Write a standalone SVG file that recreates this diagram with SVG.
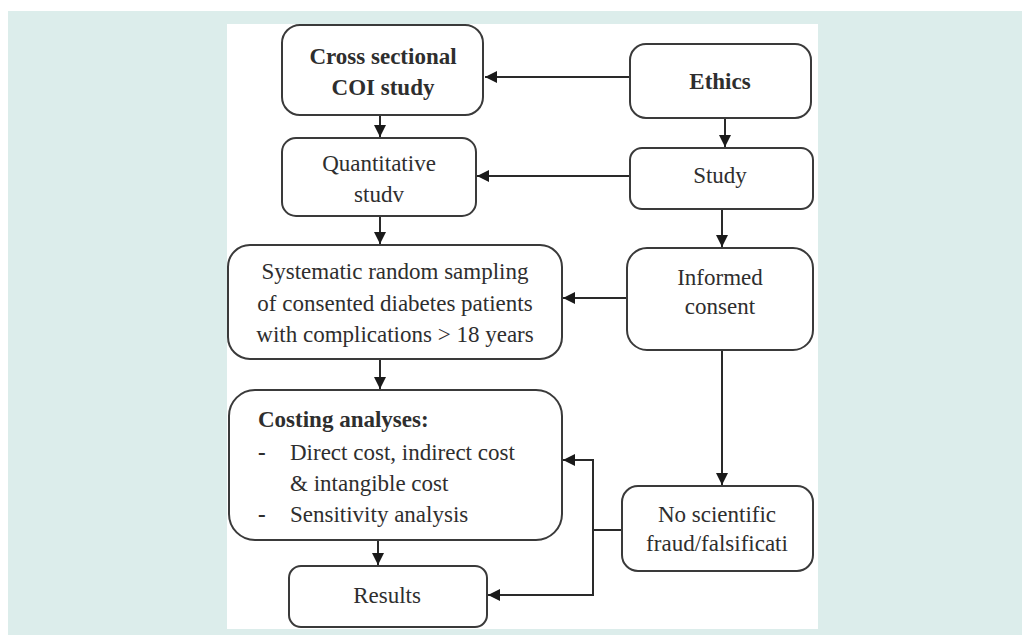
<svg xmlns="http://www.w3.org/2000/svg" width="1022" height="635" viewBox="0 0 1022 635">
<style>
.bg{fill:#dcedeb}
.box{fill:#ffffff;stroke:#3a3a3a;stroke-width:2}
.t{font-family:"Liberation Serif","Times New Roman",serif;font-size:23px;fill:#2e2e2e;text-anchor:middle}
.b{font-weight:bold}
.l{text-anchor:start}
.c{fill:none;stroke:#2a2a2a;stroke-width:2}
</style>
<defs>
<marker id="ah" viewBox="0 0 10 10" refX="10" refY="5" markerWidth="6" markerHeight="6" markerUnits="strokeWidth" orient="auto">
<path d="M0,0 L10,5 L0,10 Z" fill="#1a1a1a"/>
</marker>
</defs>
<rect x="0" y="0" width="1022" height="635" fill="#ffffff"/>
<rect class="bg" x="8" y="11" width="1014" height="624"/>
<rect x="227" y="24" width="591" height="605" fill="#ffffff"/>

<g id="connectors">
<line class="c" x1="630" y1="77" x2="485" y2="77" marker-end="url(#ah)"/>
<line class="c" x1="380" y1="115" x2="380" y2="137" marker-end="url(#ah)"/>
<line class="c" x1="725" y1="118" x2="725" y2="147" marker-end="url(#ah)"/>
<line class="c" x1="630" y1="176" x2="477" y2="176" marker-end="url(#ah)"/>
<line class="c" x1="380" y1="216" x2="380" y2="244" marker-end="url(#ah)"/>
<line class="c" x1="722" y1="209" x2="722" y2="247" marker-end="url(#ah)"/>
<line class="c" x1="627" y1="298" x2="563" y2="298" marker-end="url(#ah)"/>
<line class="c" x1="380" y1="359" x2="380" y2="389" marker-end="url(#ah)"/>
<line class="c" x1="722" y1="350" x2="722" y2="485" marker-end="url(#ah)"/>
<line class="c" x1="378" y1="540" x2="378" y2="565" marker-end="url(#ah)"/>
<line class="c" x1="622" y1="530" x2="593" y2="530"/>
<polyline class="c" points="593,595 593,460 563,460" marker-end="url(#ah)"/>
<polyline class="c" points="593,530 593,595 488,595" marker-end="url(#ah)"/>
</g>

<g id="cross">
<rect class="box" x="282" y="25" width="201" height="90" rx="18"/>
<text class="t b" x="383" y="64">Cross sectional</text>
<text class="t b" x="383" y="95">COI study</text>
</g>
<g id="ethics">
<rect class="box" x="630" y="44" width="181" height="74" rx="16"/>
<text class="t b" x="720" y="89">Ethics</text>
</g>
<g id="quantitative">
<rect class="box" x="282" y="138" width="194" height="78" rx="14"/>
<text class="t" x="379" y="171">Quantitative</text>
<text class="t" x="379" y="202">studv</text>
</g>
<g id="study">
<rect class="box" x="630" y="148" width="183" height="61" rx="12"/>
<text class="t" x="720" y="183">Study</text>
</g>
<g id="systematic">
<rect class="box" x="228" y="245" width="334" height="114" rx="22"/>
<text class="t" x="395" y="279">Systematic random sampling</text>
<text class="t" x="395" y="311">of consented diabetes patients</text>
<text class="t" x="395" y="342">with complications &gt; 18 years</text>
</g>
<g id="informed">
<rect class="box" x="627" y="248" width="186" height="102" rx="20"/>
<text class="t" x="720" y="285">Informed</text>
<text class="t" x="720" y="314">consent</text>
</g>
<g id="costing">
<rect class="box" x="229" y="390" width="333" height="150" rx="26"/>
<text class="t b l" x="258" y="427">Costing analyses:</text>
<text class="t b l" x="258" y="460">-</text>
<text class="t l" x="290" y="460">Direct cost, indirect cost</text>
<text class="t l" x="290" y="491">&amp; intangible cost</text>
<text class="t b l" x="258" y="522">-</text>
<text class="t l" x="290" y="522">Sensitivity analysis</text>
</g>
<g id="noscientific">
<rect class="box" x="622" y="486" width="191" height="85" rx="16"/>
<text class="t" x="717" y="522">No scientific</text>
<text class="t" x="717" y="551">fraud/falsificati</text>
</g>
<g id="results">
<rect class="box" x="289" y="566" width="198" height="61" rx="12"/>
<text class="t" x="387" y="603">Results</text>
</g>
</svg>
